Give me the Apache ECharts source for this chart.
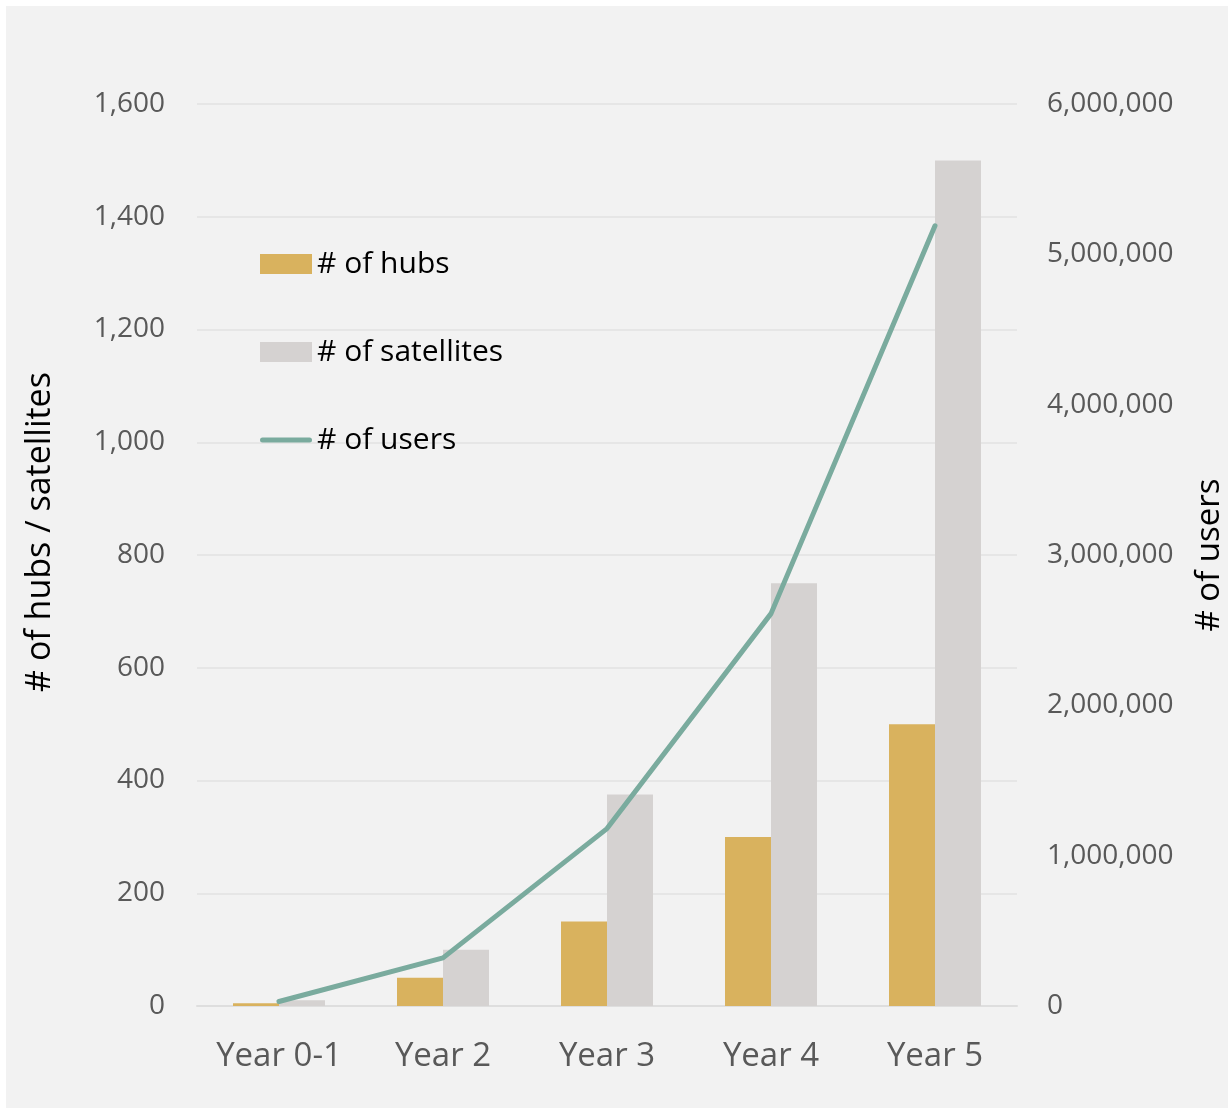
<!DOCTYPE html>
<html><head><meta charset="utf-8">
<script src="https://cdn.jsdelivr.net/npm/echarts@6/dist/echarts.min.js"></script>
<style>html,body{margin:0;padding:0;background:#fff}#c{width:1230px;height:1110px}</style>
</head><body><div id="c"></div>
<script>
const categories = ['Year 0-1', 'Year 2', 'Year 3', 'Year 4', 'Year 5'];
const hubs = [5, 50, 150, 300, 500];
const satellites = [10, 100, 375, 750, 1500];
const users = [30000, 320000, 1180000, 2610000, 5190000];

const font = '"Open Sans", sans-serif';
const fmt = v => v.toLocaleString('en-US');
const chart = echarts.init(document.getElementById('c'));
chart.setOption({
  backgroundColor: '#ffffff',
  textStyle: {fontFamily: font},
  graphic: [{type: 'rect', z: -10, silent: true, shape: {x: 6, y: 6, width: 1222, height: 1102}, style: {fill: '#f2f2f2'}}],
  grid: {left: 197, right: 213, top: 104, bottom: 104, containLabel: false, outerBoundsMode: 'none'},
  legend: {
    orient: 'vertical', left: 255, top: 244, itemGap: 58, itemWidth: 52, itemHeight: 20,
    textStyle: {fontSize: 30, color: '#000', fontFamily: font},
    data: [
      {name: '# of hubs', icon: 'rect'},
      {name: '# of satellites', icon: 'rect'},
      {name: '# of users', icon: 'path://M2.5,0 L49.5,0 A2.5,2.5 0 0 1 49.5,5 L2.5,5 A2.5,2.5 0 0 1 2.5,0 Z', itemStyle: {color: '#7aab9e'}}
    ]
  },
  xAxis: {
    type: 'category', data: categories,
    axisLine: {lineStyle: {color: '#dedede', width: 2}},
    axisTick: {show: false},
    axisLabel: {fontSize: 33, color: '#595959', margin: 34, fontFamily: font}
  },
  yAxis: [{
    type: 'value', min: 0, max: 1600, interval: 200,
    name: '# of hubs / satellites', nameLocation: 'middle', nameRotate: 90, nameGap: 140,
    nameTextStyle: {fontSize: 34, color: '#000', fontFamily: font, padding: [0, 0, 0, 46]},
    axisLabel: {fontSize: 28, color: '#595959', margin: 32, formatter: fmt, fontFamily: font},
    splitLine: {lineStyle: {color: '#e6e6e6', width: 2}},
    axisLine: {show: false}, axisTick: {show: false}
  }, {
    type: 'value', min: 0, max: 6000000, interval: 1000000, position: 'right',
    name: '# of users', nameLocation: 'middle', nameRotate: 90, nameGap: 176,
    nameTextStyle: {fontSize: 33, color: '#000', fontFamily: font},
    axisLabel: {fontSize: 28, color: '#595959', margin: 30, formatter: fmt, fontFamily: font},
    splitLine: {show: false}, axisLine: {show: false}, axisTick: {show: false}
  }],
  series: [{
    name: '# of hubs', type: 'bar', data: hubs, barWidth: 46, barGap: '0%',
    itemStyle: {color: '#d9b25e'}
  }, {
    name: '# of satellites', type: 'bar', data: satellites, barWidth: 46, barGap: '0%',
    itemStyle: {color: '#d5d2d1'}
  }, {
    name: '# of users', type: 'line', yAxisIndex: 1, data: users, symbol: 'none',
    lineStyle: {color: '#7aab9e', width: 5, cap: 'round'}, itemStyle: {color: '#7aab9e'}
  }]
});
</script></body></html>
